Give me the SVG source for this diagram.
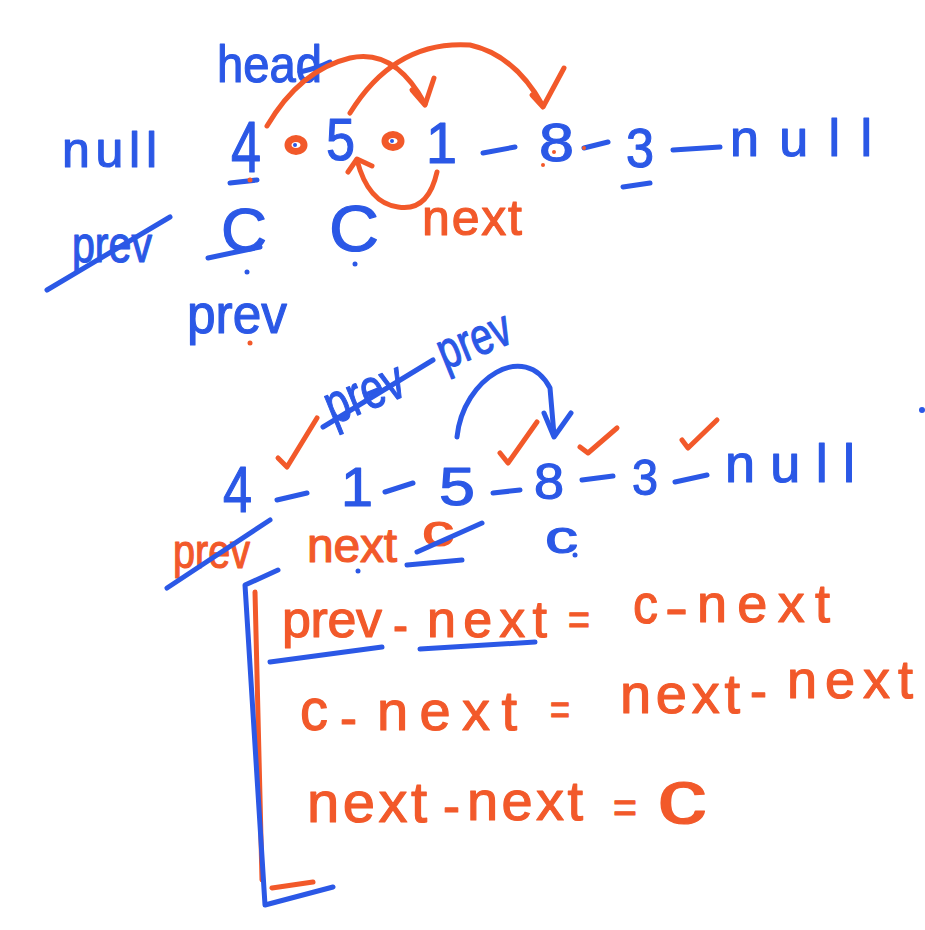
<svg xmlns="http://www.w3.org/2000/svg" width="925" height="930" viewBox="0 0 925 930">
<style>
text{font-family:"Liberation Sans","DejaVu Sans",sans-serif;stroke-width:1.2;stroke-linejoin:round}
.b{fill:#2b58e6;stroke:#2b58e6}
.o{fill:#f2592a;stroke:#f2592a}
.sb{fill:none;stroke:#2b58e6;stroke-width:5;stroke-linecap:round;stroke-linejoin:round}
.so{fill:none;stroke:#f2592a;stroke-width:5;stroke-linecap:round;stroke-linejoin:round}
.db{fill:#2b58e6}
.do{fill:#f2592a}
</style>
<rect width="925" height="930" fill="#ffffff"/>

<g id="list1">
  <text class="b" x="217" y="82" font-size="52" textLength="105" lengthAdjust="spacingAndGlyphs">head</text>
  <path class="sb" d="M300,72 Q318,68 330,62"/>
  <text class="b" x="62" y="167" font-size="50" textLength="95" lengthAdjust="spacing">null</text>
  <text class="b" x="231" y="172" font-size="72" textLength="30" lengthAdjust="spacingAndGlyphs">4</text>
  <path class="sb" d="M230,183 L257,180"/>
  <circle class="do" cx="250" cy="180" r="2.5"/>
  <ellipse cx="296" cy="145" rx="8" ry="6.5" fill="none" stroke="#f2592a" stroke-width="7"/>
  <circle class="db" cx="295" cy="145" r="2"/>
  <text class="b" x="326" y="160" font-size="60" textLength="29" lengthAdjust="spacingAndGlyphs">5</text>
  <ellipse cx="393" cy="141" rx="8" ry="6.5" fill="none" stroke="#f2592a" stroke-width="7"/>
  <circle class="db" cx="392" cy="141" r="2"/>
  <text class="b" x="426" y="163" font-size="58" textLength="31" lengthAdjust="spacingAndGlyphs">1</text>
  <path class="sb" d="M483,153 L515,147"/>
  <text class="b" x="539" y="161" font-size="54" textLength="35" lengthAdjust="spacingAndGlyphs">8</text>
  <circle class="do" cx="554" cy="152" r="2"/>
  <circle class="do" cx="543" cy="165" r="2"/>
  <path class="sb" d="M584,148 L608,142"/>
  <circle class="do" cx="584" cy="148" r="2"/>
  <text class="b" x="626" y="167" font-size="56" textLength="28" lengthAdjust="spacingAndGlyphs">3</text>
  <path class="sb" d="M623,187 L650,183" stroke-width="9"/>
  <path class="sb" d="M673,150 L720,147"/>
  <text class="b" x="730" y="156" font-size="52" textLength="142" lengthAdjust="spacing">null</text>
</g>

<g id="connectors1">
  <path class="so" d="M267,126 Q300,70 350,58 Q395,48 425,104"/>
  <path class="so" d="M412,90 L425,105 L434,78"/>
  <path class="so" d="M350,113 Q395,40 470,45 Q515,55 543,106"/>
  <path class="so" d="M532,95 L543,107 L564,68"/>
  <path class="so" d="M437,172 Q428,212 398,207 Q368,203 357,160"/>
  <path class="so" d="M348,172 L357,159 L372,166"/>
  <text class="o" x="422" y="235" font-size="50" textLength="100" lengthAdjust="spacing">next</text>
</g>

<g id="pointers1">
  <text class="b" x="72" y="262" font-size="52" textLength="80" lengthAdjust="spacingAndGlyphs">prev</text>
  <path class="sb" d="M47,290 L170,217"/>
  <text class="b" x="221" y="251" font-size="62" textLength="46" lengthAdjust="spacingAndGlyphs">C</text>
  <path class="sb" d="M208,258 L260,247"/>
  <circle class="db" cx="247" cy="272" r="2.5"/>
  <text class="b" x="329" y="251" font-size="64" textLength="50" lengthAdjust="spacingAndGlyphs">C</text>
  <circle class="db" cx="355" cy="264" r="2.5"/>
  <text class="b" x="187" y="333" font-size="56" textLength="100" lengthAdjust="spacingAndGlyphs">prev</text>
  <circle class="do" cx="250" cy="343" r="2.5"/>
</g>

<g id="list2">
  <text class="b" x="333" y="425" font-size="56" textLength="82" lengthAdjust="spacingAndGlyphs" transform="rotate(-22 333 425)">prev</text>
  <path class="sb" d="M323,427 L433,360"/>
  <text class="b" x="445" y="370" font-size="52" textLength="76" lengthAdjust="spacingAndGlyphs" transform="rotate(-22 445 370)">prev</text>
  <path class="sb" d="M457,437 C463,378 525,340 550,388 L554,435"/>
  <path class="sb" d="M544,413 L554,437 L571,413"/>
  <text class="b" x="223" y="512" font-size="64" textLength="29" lengthAdjust="spacingAndGlyphs">4</text>
  <path class="sb" d="M277,500 L307,493"/>
  <text class="b" x="341" y="506" font-size="56" textLength="32" lengthAdjust="spacingAndGlyphs">1</text>
  <path class="sb" d="M385,492 L413,483"/>
  <text class="b" x="439" y="505" font-size="54" textLength="36" lengthAdjust="spacingAndGlyphs">5</text>
  <path class="sb" d="M493,493 L520,490"/>
  <text class="b" x="534" y="499" font-size="50" textLength="30" lengthAdjust="spacingAndGlyphs">8</text>
  <path class="sb" d="M582,480 L613,476"/>
  <text class="b" x="632" y="495" font-size="50" textLength="26" lengthAdjust="spacingAndGlyphs">3</text>
  <path class="sb" d="M675,482 L707,475"/>
  <text class="b" x="725" y="482" font-size="54" textLength="130" lengthAdjust="spacing">null</text>
  <path class="so" d="M278,458 L287,467 L317,418"/>
  <path class="so" d="M500,453 L508,463 L537,422"/>
  <path class="so" d="M580,447 L588,453 L617,428"/>
  <path class="so" d="M682,440 L688,448 L717,420"/>
  <circle class="db" cx="922" cy="410" r="3"/>
</g>

<g id="pointers2">
  <text class="o" x="173" y="568" font-size="48" textLength="77" lengthAdjust="spacingAndGlyphs">prev</text>
  <path class="sb" d="M167,588 L270,520"/>
  <text class="o" x="307" y="562" font-size="48" textLength="90" lengthAdjust="spacing">next</text>
  <circle class="db" cx="358" cy="571" r="2.5"/>
  <text class="o" x="422" y="546" font-size="44" textLength="32" lengthAdjust="spacingAndGlyphs">c</text>
  <path class="sb" d="M482,523 L417,552"/>
  <path class="sb" d="M407,565 L462,560" stroke-width="7"/>
  <text class="b" x="545" y="553" font-size="46" textLength="33" lengthAdjust="spacingAndGlyphs">c</text>
  <circle class="db" cx="575" cy="555" r="2.5"/>
</g>

<g id="bracket">
  <path class="so" d="M255,592 L262,880" stroke-width="3"/>
  <path class="so" d="M272,888 L313,882"/>
  <path class="sb" d="M278,570 L245,585 L265,905 L333,887" stroke-width="7"/>
</g>

<g id="eq1">
  <text class="o" x="282" y="637" font-size="52" textLength="100" lengthAdjust="spacing">prev</text>
  <text class="o" x="393" y="643" font-size="52" textLength="15" lengthAdjust="spacingAndGlyphs">-</text>
  <text class="o" x="427" y="637" font-size="52" textLength="120" lengthAdjust="spacing">next</text>
  <path class="sb" d="M270,662 L382,647" stroke-width="8"/>
  <path class="sb" d="M420,649 L535,642" stroke-width="8"/>
  <text class="o" x="568" y="635" font-size="44" textLength="22" lengthAdjust="spacingAndGlyphs">=</text>
  <text class="o" x="633" y="623" font-size="56" textLength="25" lengthAdjust="spacingAndGlyphs">c</text>
  <text class="o" x="665" y="626" font-size="52" textLength="23" lengthAdjust="spacingAndGlyphs">-</text>
  <text class="o" x="697" y="622" font-size="54" textLength="133" lengthAdjust="spacing">next</text>
</g>

<g id="eq2">
  <text class="o" x="300" y="730" font-size="60" textLength="28" lengthAdjust="spacingAndGlyphs">c</text>
  <text class="o" x="340" y="736" font-size="52" textLength="17" lengthAdjust="spacingAndGlyphs">-</text>
  <text class="o" x="377" y="730" font-size="56" textLength="140" lengthAdjust="spacing">next</text>
  <text class="o" x="550" y="725" font-size="44" textLength="20" lengthAdjust="spacingAndGlyphs">=</text>
  <text class="o" x="620" y="713" font-size="56" textLength="120" lengthAdjust="spacing">next</text>
  <text class="o" x="750" y="709" font-size="52" textLength="17" lengthAdjust="spacingAndGlyphs">-</text>
  <text class="o" x="787" y="698" font-size="54" textLength="126" lengthAdjust="spacing">next</text>
</g>

<g id="eq3">
  <text class="o" x="307" y="822" font-size="58" textLength="120" lengthAdjust="spacing">next</text>
  <text class="o" x="443" y="824" font-size="52" textLength="17" lengthAdjust="spacingAndGlyphs">-</text>
  <text class="o" x="467" y="820" font-size="56" textLength="116" lengthAdjust="spacing">next</text>
  <text class="o" x="613" y="823" font-size="44" textLength="24" lengthAdjust="spacingAndGlyphs">=</text>
  <text class="o" x="657" y="823" font-size="76" textLength="50" lengthAdjust="spacingAndGlyphs">c</text>
</g>
</svg>
